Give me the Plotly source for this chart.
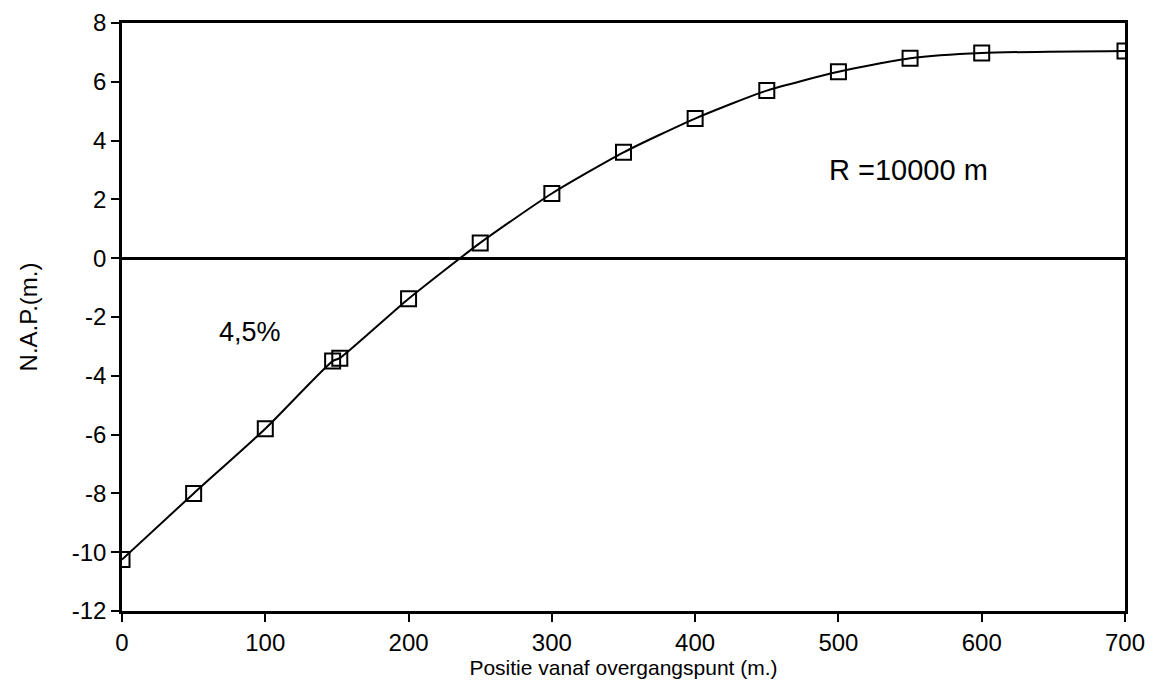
import plotly.graph_objects as go

positie = [0, 50, 100, 147, 152, 200, 250, 300, 350, 400, 450, 500, 550, 600, 700]
nap = [-10.25, -8.0, -5.8, -3.5, -3.4, -1.38, 0.52, 2.2, 3.6, 4.75, 5.7, 6.34, 6.8, 6.98, 7.05]

x_ticks = [0, 100, 200, 300, 400, 500, 600, 700]
y_ticks = [-12, -10, -8, -6, -4, -2, 0, 2, 4, 6, 8]
y_tick_labels = ["-12", "-10", "-8", "-6", "-4", "-2", "0", "2", "4", "6", "8"]

font_family = "Liberation Sans, Arial, Helvetica, sans-serif"

fig = go.Figure()
fig.add_trace(go.Scatter(
    x=positie, y=nap,
    mode="lines+markers",
    line=dict(color="black", width=2, shape="spline", smoothing=0.6),
    marker=dict(symbol="square-open", size=15, color="black", line=dict(width=2)),
    showlegend=False,
))

fig.add_annotation(x=89, y=-2.5, text="4,5%", showarrow=False,
                   font=dict(size=27, color="black", family=font_family))
fig.add_annotation(x=549, y=3.0, text="R =10000 m", showarrow=False,
                   font=dict(size=29, color="black", family=font_family))

axis_common = dict(
    showline=True, linecolor="black", linewidth=2.5, mirror=True,
    ticks="outside", ticklen=8, tickwidth=2, tickcolor="black",
    showgrid=False, automargin=False, ticklabeloverflow="allow",
    tickfont=dict(size=24, color="black", family=font_family),
)

fig.update_xaxes(
    range=[0, 700], tickvals=x_ticks, zeroline=False,
    title=dict(text="Positie vanaf overgangspunt (m.)", font=dict(size=21, color="black", family=font_family), standoff=2),
    **axis_common,
)
fig.update_yaxes(
    range=[-12, 8], tickvals=y_ticks, ticktext=y_tick_labels,
    zeroline=True, zerolinecolor="black", zerolinewidth=2.5,
    title=dict(text="N.A.P.(m.)", font=dict(size=24, color="black", family=font_family), standoff=28),
    **axis_common,
)

fig.update_layout(
    width=1145, height=678,
    margin=dict(l=114, r=28, t=15, b=75),
    paper_bgcolor="white", plot_bgcolor="white",
    font=dict(family=font_family, color="black"),
)

fig.write_html("out.html")
